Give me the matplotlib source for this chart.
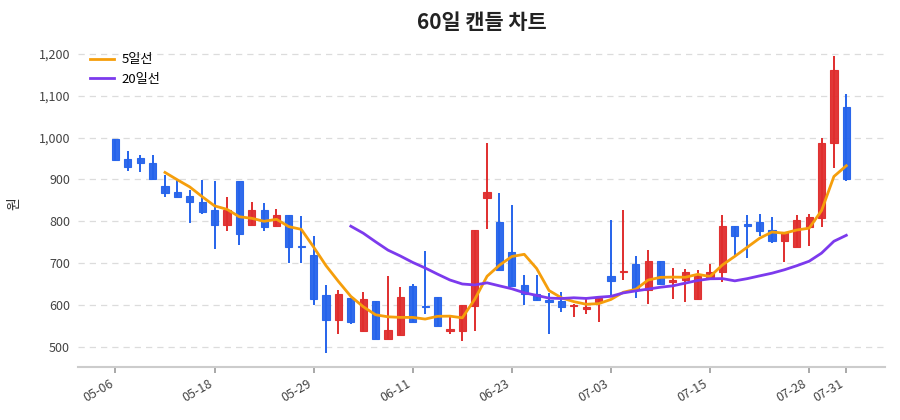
import matplotlib
matplotlib.use("Agg")
import matplotlib.pyplot as plt
import numpy as np
import pandas as pd

plt.rcParams['font.family'] = ['Noto Sans CJK KR', 'DejaVu Sans']

opens = [996, 948, 950, 940, 885, 870, 861, 847, 826, 791,
         897, 791, 827, 788, 815, 741, 720, 625, 564, 618,
         538, 610, 520, 528, 646, 598, 620, 538, 539, 598,
         855, 798, 726, 647, 627, 612, 610, 597, 591, 608,
         670, 680, 699, 635, 706, 656, 659, 614, 667, 678,
         788, 794, 798, 780, 754, 739, 787, 807, 986, 1072]
highs = [996, 968, 959, 958, 910, 898, 875, 899, 895, 858,
         897, 847, 844, 830, 815, 812, 764, 648, 635, 618,
         631, 610, 670, 643, 650, 730, 620, 572, 600, 780,
         987, 868, 838, 671, 671, 630, 631, 603, 614, 618,
         802, 827, 718, 732, 706, 688, 686, 684, 698, 814,
         788, 815, 818, 810, 775, 815, 817, 998, 1195, 1103]
lows = [945, 920, 918, 898, 858, 859, 797, 818, 734, 776,
        743, 791, 776, 788, 700, 700, 599, 486, 530, 556,
        536, 518, 520, 528, 560, 579, 551, 530, 515, 539,
        782, 683, 646, 600, 610, 530, 584, 571, 579, 560,
        624, 659, 616, 602, 650, 614, 608, 612, 667, 654,
        720, 712, 766, 748, 704, 739, 742, 786, 928, 895]
closes = [947, 930, 938, 901, 867, 859, 845, 822, 791, 826,
          770, 827, 786, 815, 738, 738, 615, 564, 627, 560,
          615, 518, 540, 620, 560, 595, 551, 542, 600, 780,
          871, 683, 646, 626, 611, 608, 596, 600, 595, 618,
          658, 682, 635, 706, 650, 661, 680, 670, 680, 788,
          764, 788, 778, 754, 774, 802, 810, 987, 1162, 902]

tick_pos = [0, 8, 16, 24, 32, 40, 48, 56, 59]
tick_labels = ['05-06', '05-18', '05-29', '06-11', '06-23', '07-03', '07-15', '07-28', '07-31']

UP = '#e02d2d'
DOWN = '#2563eb'

fig = plt.figure(figsize=(9, 4.2), dpi=100)
ax = fig.add_axes([0.087, 0.126, 0.896, 0.779])

x = np.arange(len(closes))
for i in x:
    o, h, l, c = opens[i], highs[i], lows[i], closes[i]
    col = UP if c >= o else DOWN
    ax.vlines(i, l, h, color=col, linewidth=1.4, zorder=2)
    bottom = min(o, c)
    height = max(abs(c - o), 2.5)
    ax.bar(i, height, bottom=bottom, width=0.58, color=col,
           edgecolor=col, linewidth=0.8, alpha=0.95, zorder=3)

s = pd.Series(closes, dtype=float)
ma5 = s.rolling(5).mean()
ma20 = s.rolling(20).mean()
ax.plot(x, ma5, color='#f59e0b', linewidth=2.0, label='5일선', zorder=4)
ax.plot(x, ma20, color='#7c3aed', linewidth=2.0, label='20일선', zorder=4)

ax.set_xlim(-3, 62.1)
ax.set_ylim(452, 1233)
ax.set_yticks([500, 600, 700, 800, 900, 1000, 1100, 1200])
ax.set_yticklabels(['500', '600', '700', '800', '900', '1,000', '1,100', '1,200'])
ax.set_xticks(tick_pos)
ax.set_xticklabels(tick_labels, rotation=30, ha='right')

ax.grid(axis='y', linestyle=(0, (5, 4)), color='#dcdcdc', linewidth=0.9)
ax.grid(axis='x', visible=False)
ax.set_axisbelow(True)
for sp in ['top', 'right', 'left']:
    ax.spines[sp].set_visible(False)
ax.spines['bottom'].set_color('#cccccc')
ax.spines['bottom'].set_linewidth(1.5)
ax.tick_params(axis='y', length=0, labelsize=9, colors='#444444', pad=6)
ax.tick_params(axis='x', length=4, width=1.2, color='#999999', labelsize=9, labelcolor='#444444')

ax.set_ylabel('원', fontsize=10, color='#333333', labelpad=12)
fig.suptitle('60일 캔들 차트', fontsize=15, fontweight='bold', x=0.535, y=0.972, color='#222222')

leg = ax.legend(loc='upper left', frameon=False, fontsize=9.5, handlelength=1.8,
                handletextpad=0.6, bbox_to_anchor=(0.0, 0.995))

fig.savefig('out.png', dpi=100, facecolor='white')
